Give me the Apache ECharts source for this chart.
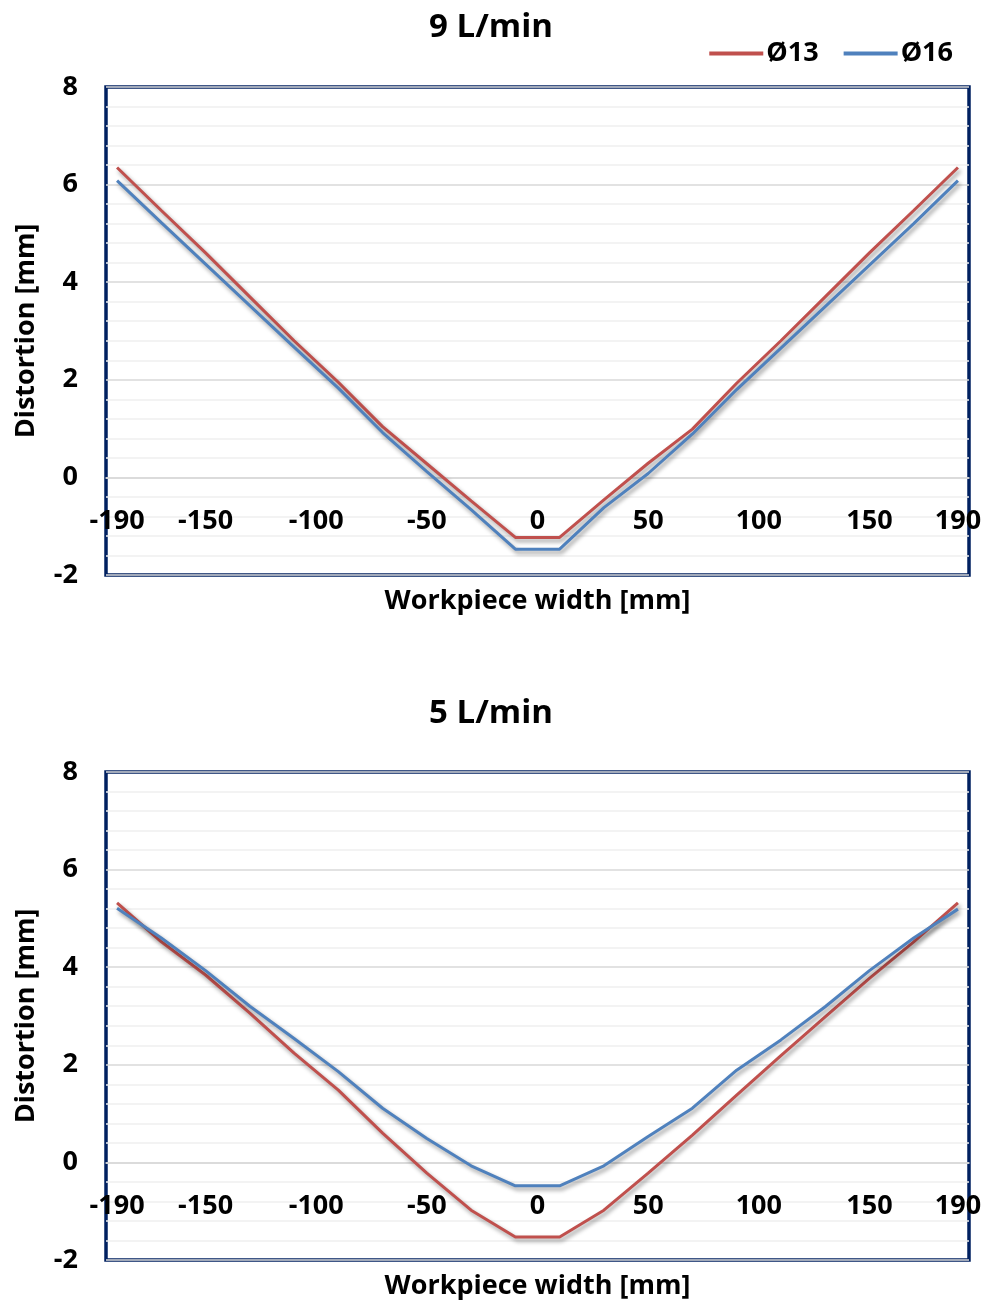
<!DOCTYPE html>
<html>
<head>
<meta charset="utf-8">
<script src="https://cdn.jsdelivr.net/npm/echarts@6/dist/echarts.min.js"></script>
<style>
html,body{margin:0;padding:0;background:#fff;}
#c{width:990px;height:1306px;}
</style>
</head>
<body>
<div id="c"></div>
<script>
// ---- data ----
const xValues = [-190,-170,-150,-130,-110,-90,-70,-50,-30,-10,0,10,30,50,70,90,110,130,150,170,190];
const xTickLabels = [-190,-150,-100,-50,0,50,100,150,190];
const chartTitles = ['9 L/min', '5 L/min'];
const seriesNames = ['Ø13', 'Ø16'];
// 9 L/min
const flow9_d13 = [6.35,5.47,4.60,3.70,2.80,1.95,1.04,0.28,-0.48,-1.23,-1.23,-1.23,-0.46,0.29,0.99,1.93,2.80,3.70,4.60,5.47,6.35];
const flow9_d16 = [6.08,5.22,4.37,3.52,2.67,1.83,0.92,0.12,-0.66,-1.47,-1.47,-1.47,-0.62,0.08,0.89,1.80,2.65,3.50,4.35,5.20,6.08];
// 5 L/min
const flow5_d13 = [5.32,4.52,3.84,3.06,2.24,1.48,0.60,-0.22,-0.98,-1.53,-1.53,-1.53,-0.98,-0.22,0.56,1.38,2.19,2.98,3.77,4.52,5.32];
const flow5_d16 = [5.21,4.60,3.93,3.20,2.54,1.86,1.11,0.49,-0.07,-0.48,-0.48,-0.48,-0.07,0.53,1.11,1.89,2.51,3.19,3.93,4.60,5.19];

const FONT = 'Open Sans';
const RED = '#C0504D';
const BLUE = '#4F81BD';
const NAVY = '#002060';
const GRID_H = 488;
const Y_MIN = -2, Y_MAX = 8;

function pairs(vals){ return xValues.map((x,i)=>[x, vals[i]]); }

function makeX(gi){
  // place the x axis (labels) on the y = 0 line
  const zeroOffset = -GRID_H * (0 - Y_MIN) / (Y_MAX - Y_MIN);
  return {
    type:'value', gridIndex:gi, min:-195, max:195, position:'bottom', offset:zeroOffset,
    axisLine:{show:true, onZero:false, lineStyle:{color:'#d9d9d9', width:1.5}},
    axisTick:{show:false},
    splitLine:{show:false},
    axisLabel:{customValues:xTickLabels, fontFamily:FONT, fontWeight:'bold', fontSize:27, color:'#000', margin:30},
    name:'Workpiece width [mm]', nameLocation:'middle', nameGap:110,
    nameTextStyle:{fontFamily:FONT, fontWeight:'bold', fontSize:27, color:'#000'}
  };
}
function makeY(gi){
  return {
    type:'value', gridIndex:gi, min:Y_MIN, max:Y_MAX, interval:2, position:'left',
    axisLine:{show:false, onZero:false}, axisTick:{show:false},
    splitLine:{show:true, lineStyle:{color:'#d9d9d9', width:1.5}},
    minorTick:{show:false, splitNumber:5},
    minorSplitLine:{show:true, lineStyle:{color:'#f0f0f0', width:1.5}},
    axisLabel:{fontFamily:FONT, fontWeight:'bold', fontSize:27, color:'#000', margin:28},
    name:'Distortion [mm]', nameLocation:'middle', nameGap:66, nameRotate:90,
    nameTextStyle:{fontFamily:FONT, fontWeight:'bold', fontSize:27, color:'#000'}
  };
}
function makeSeries(name, data, color, xi){
  return {
    name:name, type:'line', xAxisIndex:xi, yAxisIndex:xi, data:pairs(data),
    showSymbol:false, symbol:'none', animation:false,
    lineStyle:{color:color, width:3, shadowColor:'rgba(0,0,0,0.4)', shadowBlur:4, shadowOffsetX:2, shadowOffsetY:3},
    itemStyle:{color:color}
  };
}

const chart = echarts.init(document.getElementById('c'), null, {renderer:'canvas'});
chart.setOption({
  animation:false,
  backgroundColor:'#fff',
  title:[
    {text:chartTitles[0], left:486, textAlign:'center', top:6, textStyle:{fontFamily:FONT, fontWeight:'bold', fontSize:33, color:'#000'}},
    {text:chartTitles[1], left:486, textAlign:'center', top:692, textStyle:{fontFamily:FONT, fontWeight:'bold', fontSize:33, color:'#000'}}
  ],
  legend:{
    data:seriesNames, right:32, top:35, icon:'rect', itemWidth:54, itemHeight:4, itemGap:25,
    textStyle:{fontFamily:FONT, fontWeight:'bold', fontSize:27, color:'#000', padding:[0,0,0,-2]}
  },
  grid:[
    {left:106, top:87, width:863, height:GRID_H, show:true, borderColor:NAVY, borderWidth:3.5, backgroundColor:'transparent', containLabel:false, outerBoundsMode:'none'},
    {left:106, top:772, width:863, height:GRID_H, show:true, borderColor:NAVY, borderWidth:3.5, backgroundColor:'transparent', containLabel:false, outerBoundsMode:'none'}
  ],
  xAxis:[makeX(0), makeX(1)],
  yAxis:[makeY(0), makeY(1)],
  series:[
    makeSeries(seriesNames[0], flow9_d13, RED, 0),
    makeSeries(seriesNames[1], flow9_d16, BLUE, 0),
    makeSeries(seriesNames[0], flow5_d13, RED, 1),
    makeSeries(seriesNames[1], flow5_d16, BLUE, 1)
  ]
});
</script>
</body>
</html>
